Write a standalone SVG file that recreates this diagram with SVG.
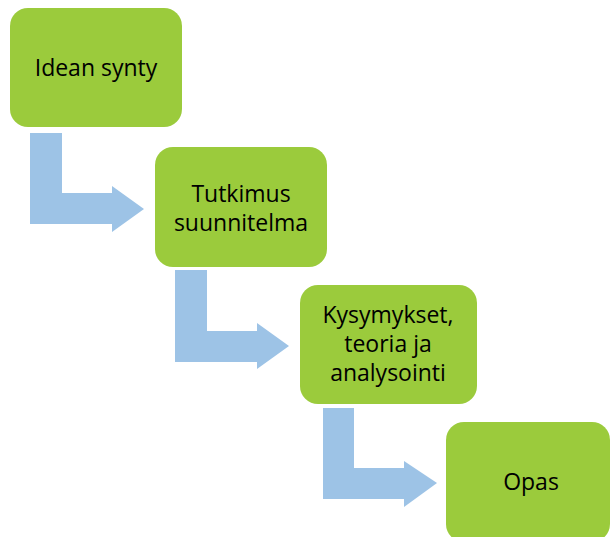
<svg xmlns="http://www.w3.org/2000/svg" width="610" height="537" viewBox="0 0 610 537">
<style>
.box{fill:#9BCB3C;}
.arr{fill:#9DC3E6;}
text{font-family:"Open Sans","Liberation Sans",sans-serif;font-size:23px;fill:#000;text-anchor:middle;}
</style>
<rect width="610" height="537" fill="#fff"/>
<g id="connectors">
<path class="arr" d="M30,133 H62 V193 H112 V186 L144,209 L112,232 V224 H30 Z"/>
<path class="arr" d="M175,270 H207 V331 H257 V323 L289,346 L257,369 V362 H175 Z"/>
<path class="arr" d="M323,408 H354 V468 H404 V461 L437,483 L404,507 V499 H323 Z"/>
</g>
<g id="node1">
<rect class="box" x="10" y="8" width="172" height="119" rx="18"/>
<text x="96" y="76">Idean synty</text>
</g>
<g id="node2">
<rect class="box" x="155" y="147" width="172" height="120" rx="18"/>
<text x="241" y="202">Tutkimus</text>
<text x="241" y="231">suunnitelma</text>
</g>
<g id="node3">
<rect class="box" x="300" y="285" width="177" height="119" rx="18"/>
<text x="388" y="323">Kysymykset,</text>
<text x="388" y="352">teoria ja</text>
<text x="388" y="381">analysointi</text>
</g>
<g id="node4">
<rect class="box" x="446" y="422" width="164" height="120" rx="18"/>
<text x="531" y="490">Opas</text>
</g>
</svg>
